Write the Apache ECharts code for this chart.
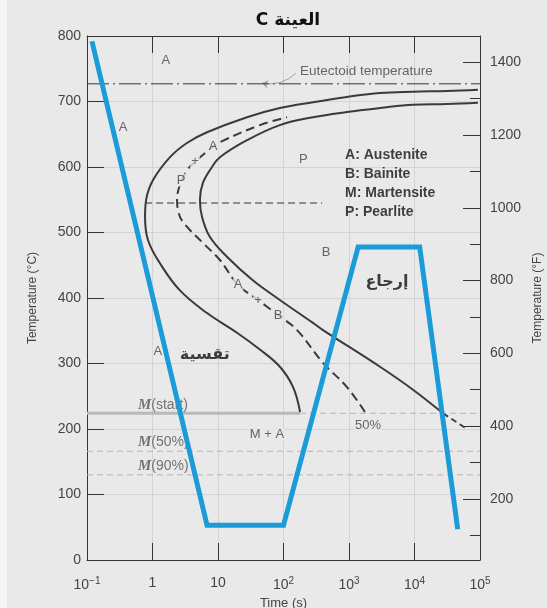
<!DOCTYPE html>
<html>
<head>
<meta charset="utf-8">
<script src="https://cdn.jsdelivr.net/npm/echarts@6/dist/echarts.min.js"></script>
<style>
html, body { margin: 0; padding: 0; background: #e9e9e9; }
#ttt { width: 547px; height: 608px; }
</style>
</head>
<body>
<div id="ttt"></div>
<script>
// --- data (time in seconds, temperature in °C) ---
var startTime = [179, 140, 88, 44, 19.5, 6.8, 2.6, 1.3, 0.85, 0.77, 0.8, 1.02, 1.85, 3.4, 6.8, 27.7, 88, 282, 931, 2970, 9480, 31300, 93000];
var startTemp = [226, 264, 295, 321, 347, 377, 412, 453, 489, 524, 550, 580, 615, 637, 653, 676, 690, 699, 707, 713, 715, 716, 718];

var finishTime = [27200, 9480, 2970, 401, 282, 88, 34, 13.7, 7.55, 5.7, 5.3, 5.9, 8.1, 10.7, 27.7, 88, 282, 931, 2970, 9480, 31300, 93000];
var finishTemp = [224, 260, 295, 351, 362, 397, 427, 463, 493, 524, 550, 576, 600, 615, 641, 664, 676, 684, 690, 695, 696, 698];
var finishTailTime = [27200, 63400];
var finishTailTemp = [224, 200];

var halfTime = [1750, 931, 401, 161, 82.4, 40.8, 20.2, 10.7, 5.9, 2.92, 2.45, 2.37, 2.63, 3.37, 4.46, 8.4, 10.7, 43.8, 113];
var halfTemp = [226, 264, 301, 351, 374, 397, 420, 458, 484, 516, 534, 550, 573, 595, 608, 631, 638, 664, 676];

var pathTime = [0.119, 6.8, 100, 1380, 12000, 45700];
var pathTemp = [792, 53, 53, 478, 478, 47];

var eutectoidTemp = 727;
var msTemp = 224, m50Temp = 166, m90Temp = 130;
var msSolidEnd = 179;
var noseLineTemp = 545, noseLineFrom = 0.77, noseLineTo = 389;

var fTicksMajor = [200, 400, 600, 800, 1000, 1200, 1400];
var fTicksMinor = [100, 300, 500, 700, 900, 1100, 1300];

var phaseText = ['A', 'A', 'P', 'P', 'A', '+', 'A', '+', 'B', 'B', 'A', 'M + A', '50%'];
var phaseTime = [1.6, 0.355, 200, 2.72, 8.4, 4.46, 20.2, 40.8, 82.4, 447, 1.21, 56, 1950];
var phaseTemp = [763, 660, 612, 580, 631, 608, 420, 397, 374, 469, 319, 191, 206];

var keyText = ['A: Austenite', 'B: Bainite', 'M: Martensite', 'P: Pearlite'];
var keyTime = [871, 871, 871, 871];
var keyTemp = [618, 589, 560, 531];

var mText = ['{m|M}(start)', '{m|M}(50%)', '{m|M}(90%)'];
var mTime = [0.6, 0.6, 0.6];
var mTemp = [237, 180, 143];

var arabicText = ['إرجاع', 'تقسية'];
var arabicTime = [3800, 6.3];
var arabicTemp = [424, 313];

var eutLabelTime = 178, eutLabelTemp = 746;
var eutArrow = [[155, 743], [47, 728]];

// --- helpers ---
function pairs(xs, ys) {
	var out = [];
	for (var i = 0; i < xs.length; i++) out.push([xs[i], ys[i]]);
	return out;
}
function hline(t, a, b) { return [[a, t], [b, t]]; }

function lineSeries(data, color, width, type, smooth, z) {
	return {
		type: 'line', data: data, symbol: 'none', silent: true,
		smooth: smooth || false, z: z || 2,
		lineStyle: { color: color, width: width, type: type || 'solid' }
	};
}

function textSeries(xs, ys, texts, label, z) {
	var d = [];
	for (var i = 0; i < xs.length; i++) d.push({ value: [xs[i], ys[i]], name: texts[i] });
	return {
		type: 'scatter', data: d, symbolSize: 0, silent: true, z: z || 3,
		label: Object.assign({ show: true, formatter: function (p) { return p.name; } }, label)
	};
}

var bg = '#e9e9e9';
var sans = 'Liberation Sans, Arial, sans-serif';

function expLabel(v) {
	var e = Math.round(Math.log10(v));
	if (e === 0) return '1';
	if (e === 1) return '10';
	return '10{sup|' + (e < 0 ? '\u2212' + (-e) : e) + '}';
}

var myChart = echarts.init(document.getElementById('ttt'));

var option = {
	backgroundColor: bg,
	animation: false,
	graphic: [{ type: 'rect', left: 0, top: 0, shape: { width: 7, height: 608 }, style: { fill: '#f4f4f4' }, z: -1 }],
	title: {
		// "C" sits left of the Arabic word, as in the picture
		text: 'C العينة', left: 283, top: 7, textAlign: 'center',
		textStyle: { fontSize: 17, fontWeight: 'bold', color: '#111', fontFamily: 'DejaVu Sans, sans-serif' }
	},
	grid: { left: 87, right: 67, top: 36, bottom: 48, containLabel: false, outerBoundsMode: 'none' },
	xAxis: [{
		type: 'log', logBase: 10, min: 0.1, max: 100000, splitNumber: 6,
		axisLine: { lineStyle: { color: '#333', width: 1 } },
		axisTick: { inside: true, length: 17, lineStyle: { color: '#333' } },
		splitLine: { show: true, lineStyle: { color: '#d3d3d3' } },
		minorTick: { show: false },
		axisLabel: {
			margin: 16, color: '#444', fontSize: 14, fontFamily: sans,
			formatter: expLabel,
			rich: { sup: { fontSize: 10, color: '#444', verticalAlign: 'top', padding: [0, 0, 8, 0] } }
		},
		name: 'Time (s)', nameLocation: 'middle', nameGap: 29,
		nameTextStyle: { color: '#444', fontSize: 13, fontFamily: sans }
	}, {
		type: 'log', logBase: 10, min: 0.1, max: 100000, splitNumber: 6, position: 'top',
		axisLine: { lineStyle: { color: '#333', width: 1 } },
		axisTick: { inside: true, length: 17, lineStyle: { color: '#333' } },
		axisLabel: { show: false }, splitLine: { show: false }
	}],
	yAxis: [{
		type: 'value', min: 0, max: 800, interval: 100,
		axisLine: { show: true, lineStyle: { color: '#333', width: 1 } },
		axisTick: { show: true, inside: true, length: 17, lineStyle: { color: '#333' } },
		splitLine: { show: true, lineStyle: { color: '#d3d3d3' } },
		axisLabel: { margin: 6, color: '#444', fontSize: 14, fontFamily: sans },
		name: 'Temperature (°C)', nameLocation: 'middle', nameGap: 48, nameRotate: 90,
		nameTextStyle: { color: '#444', fontSize: 12, fontFamily: sans }
	}, {
		type: 'value', min: 32, max: 1472, position: 'right',
		axisLine: { show: true, lineStyle: { color: '#333', width: 1 } },
		axisTick: { show: true, inside: true, length: 17, customValues: fTicksMajor, lineStyle: { color: '#333' } },
		axisLabel: {
			customValues: fTicksMajor, margin: 10, color: '#444', fontSize: 14, fontFamily: sans,
			formatter: function (v) { return String(v); }
		},
		splitLine: { show: false },
		name: 'Temperature (°F)', nameLocation: 'middle', nameGap: 52, nameRotate: 90,
		nameTextStyle: { color: '#444', fontSize: 12, fontFamily: sans }
	}, {
		type: 'value', min: 32, max: 1472, position: 'right',
		axisLine: { show: false },
		axisTick: { show: true, inside: true, length: 10, customValues: fTicksMinor, lineStyle: { color: '#333' } },
		axisLabel: { show: false }, splitLine: { show: false }
	}],
	series: [
		lineSeries(hline(eutectoidTemp, 0.1, 100000), '#333', 1, [22, 4, 2, 4]),
		lineSeries(hline(noseLineTemp, noseLineFrom, noseLineTo), '#333', 1, [7, 4]),
		lineSeries(hline(msTemp, 0.1, msSolidEnd), '#b9b9b9', 3),
		lineSeries(hline(msTemp, msSolidEnd, 100000), '#b4b4b4', 1, [6, 4]),
		lineSeries(hline(m50Temp, 0.1, 100000), '#b4b4b4', 1, [6, 4]),
		lineSeries(hline(m90Temp, 0.1, 100000), '#b4b4b4', 1, [6, 4]),
		lineSeries(pairs(startTime, startTemp), '#3a3a3a', 2, 'solid', 0.4),
		lineSeries(pairs(finishTime, finishTemp), '#3a3a3a', 2, 'solid', 0.4),
		lineSeries(pairs(finishTailTime, finishTailTemp), '#3a3a3a', 2, [6, 4]),
		lineSeries(pairs(halfTime, halfTemp), '#3a3a3a', 2, [9, 5], 0.4),
		{
			type: 'lines', coordinateSystem: 'cartesian2d', silent: true, z: 3,
			symbol: ['none', 'arrow'], symbolSize: 6,
			lineStyle: { color: '#555', width: 1, curveness: 0.25 },
			data: [{ coords: eutArrow }]
		},
		textSeries([eutLabelTime], [eutLabelTemp], ['Eutectoid temperature'],
			{ position: 'right', distance: 0, color: '#444', fontSize: 13.5, fontFamily: sans }),
		textSeries(phaseTime, phaseTemp, phaseText,
			{ position: 'inside', color: '#444', fontSize: 13, fontFamily: sans, backgroundColor: bg, padding: [0, 1] }),
		textSeries(keyTime, keyTemp, keyText,
			{ position: 'right', distance: 0, color: '#111', fontSize: 14, fontWeight: 'bold', fontFamily: sans }),
		textSeries(mTime, mTemp, mText,
			{ position: 'right', distance: 0, color: '#555', fontSize: 14, fontFamily: sans,
			  rich: { m: { fontFamily: 'Liberation Serif, DejaVu Serif, serif', fontStyle: 'italic', fontWeight: 'bold', fontSize: 15, color: '#555' } } }),
		textSeries(arabicTime, arabicTemp, arabicText,
			{ position: 'inside', color: '#111', fontSize: 16, fontWeight: 'bold', fontFamily: 'DejaVu Sans, sans-serif' }),
		{
			type: 'line', data: pairs(pathTime, pathTemp), symbol: 'none', silent: true, z: 6,
			lineStyle: { color: '#1b9bd7', width: 5, join: 'miter' }
		}
	]
};

myChart.setOption(option);
</script>
</body>
</html>
